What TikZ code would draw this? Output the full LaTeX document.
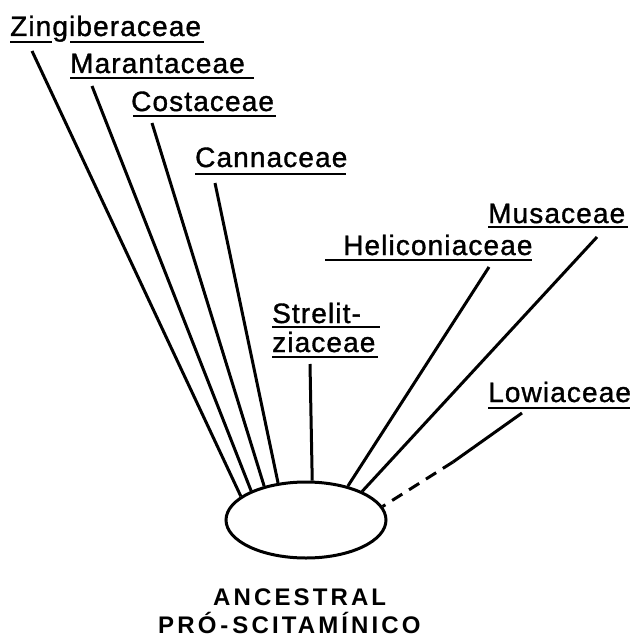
\documentclass[tikz,border=0pt]{standalone}
\usepackage{fontspec}
\setmainfont{Liberation Sans}
\newfontfamily\labfont[LetterSpace=4,FakeBold=1.2]{Liberation Sans}
\newfontfamily\ancfont[LetterSpace=13]{Liberation Sans}
\usetikzlibrary{shapes.geometric}
\begin{document}
\begin{tikzpicture}[x=1pt,y=-1pt,
  lab/.style={anchor=base west,inner sep=0pt,font=\labfont\fontsize{28}{30}\selectfont},
  anc/.style={anchor=base west,inner sep=0pt,font=\ancfont\bfseries\fontsize{24}{26}\selectfont},
  uline/.style={line width=2.2pt},
  conn/.style={line width=3pt},
  dconn/.style={line width=3pt,dash pattern=on 12pt off 8pt}]
\useasboundingbox (0,0) rectangle (633,642);
% ancestor
\node[draw,line width=3pt,ellipse,minimum width=160pt,minimum height=76pt,inner sep=0pt] (A) at (306,520) {};
\node[anc] (anc) at (213,605) {ANCESTRAL};
\node[anc] (pro) at (158,633) {PRÓ\kern4pt-\kern4pt SCITAMÍNICO};
% labels
\node[lab] (zin) at (10,36) {Zingiberaceae};
\node[lab] (mar) at (70,73) {Marantaceae};
\node[lab] (cos) at (131,111) {Costaceae};
\node[lab] (can) at (195,167) {Cannaceae};
\node[lab] (str1) at (272,323) {Strelit-};
\node[lab] (str2) at (272,352) {ziaceae};
\node[lab] (hel) at (343,255) {Heliconiaceae};
\node[lab] (mus) at (488,223) {Musaceae};
\node[lab] (low) at (488,402) {Lowiaceae};
% underlines
\draw[uline] (10,42) -- (52,42) (70,42) -- (204,42);
\draw[uline] (70,78) -- (254,78);
\draw[uline] (133,116) -- (276,116);
\draw[uline] (195,174) -- (346,174);
\draw[uline] (272,327) -- (380,327);
\draw[uline] (272,357) -- (378,357);
\draw[uline] (325,260) -- (532,260);
\draw[uline] (488,227) -- (628,227);
\draw[uline] (488,408) -- (630,408);
% connector tops
\coordinate (zt) at (32,51);
\coordinate (mt) at (92,86);
\coordinate (ct) at (152,123);
\coordinate (nt) at (215,183);
\coordinate (st) at (310,364);
\coordinate (ht) at (489,267);
\coordinate (ut) at (597,237);
\coordinate (lt) at (522,413);
\coordinate (lm) at (453,462);
% connectors
\draw[conn] (zt) -- (A.160);
\draw[conn] (mt) -- (A.152);
\draw[conn] (ct) -- (A.141);
\draw[conn] (nt) -- (A.127);
\draw[conn] (st) -- (A.81);
\draw[conn] (ht) -- (A.39);
\draw[conn] (ut) -- (A.27);
\draw[conn] (lt) -- (lm);
\draw[dconn] (lm) -- (A.10);
\end{tikzpicture}
\end{document}
